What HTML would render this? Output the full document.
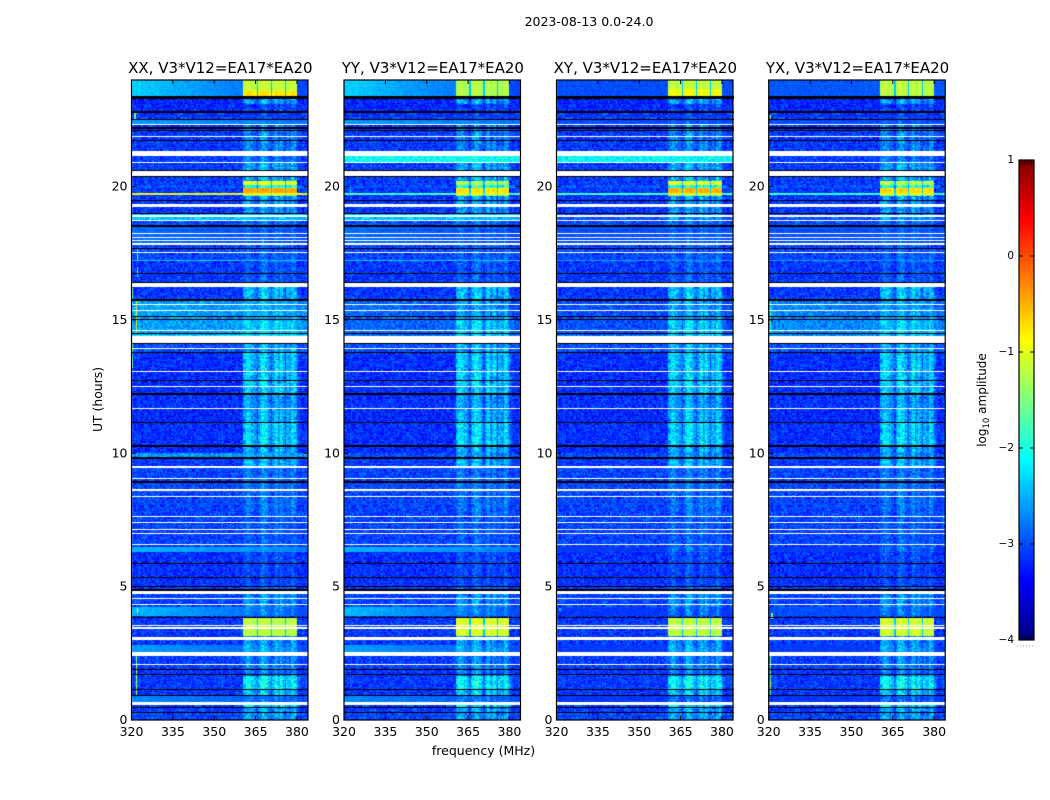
<!DOCTYPE html>
<html>
<head>
<meta charset="utf-8">
<title>2023-08-13 dynamic spectra</title>
<style>
html,body{margin:0;padding:0;background:#fff;}
#figure{position:relative;width:1050px;height:800px;overflow:hidden;background:#fff;}
canvas{position:absolute;display:block;}
svg{position:absolute;left:0;top:0;}
text{font-family:"DejaVu Sans","Liberation Sans",sans-serif;fill:#000;}
</style>
</head>
<body>
<div id="figure">
<canvas id="panel-0" width="177" height="640" style="left:131px;top:80px"></canvas>
<canvas id="panel-1" width="177" height="640" style="left:344px;top:80px"></canvas>
<canvas id="panel-2" width="178" height="640" style="left:556px;top:80px"></canvas>
<canvas id="panel-3" width="177" height="640" style="left:768px;top:80px"></canvas>
<canvas id="colorbar" width="15" height="480" style="left:1019px;top:160px"></canvas>
<svg id="overlay" width="1050" height="800"></svg>
</div>
<script>
// Panel titles
const panelTitles = ["XX, V3*V12=EA17*EA20","YY, V3*V12=EA17*EA20","XY, V3*V12=EA17*EA20","YX, V3*V12=EA17*EA20"];
// Axis ticks
const freqTicks = [320,335,350,365,380];
const utTicks = [0,5,10,15,20];
const colorTicks = [-4,-3,-2,-1,0,1];
// Time bands: top edge of each band in UT hours
const levelTop = [24,23.4,23.1,22.77,22.5,22.31,21.15,20.9,20.21,20.03,
19.95,19.75,19.71,19.65,18.98,18.71,18.49,17.81,17.25,17.21,
16.23,15.72,15,14.46,14.1,13.77,12.25,11.66,11.14,10.25,
9.98,9.85,9.44,7.65,6.48,6.31,5,4.83,4.24,3.9,
3.84,3.15,2.78,2.41,1.67,1.16,0.9,0.56,0.44];
// Background log10 amplitude per band, per polarisation
const bgXX = [-2.35,-3.2,-3.2,-3.1,-2.6,-3.1,-3.1,-3.1,-3.1,-3,
-3.1,-1,-3.1,-3.1,-2.4,-3,-2.85,-3.05,-2.4,-3.1,
-3.1,-2.55,-2.6,-2.2,-3,-3.15,-3.15,-3.2,-3.15,-3.15,
-2.6,-3.1,-3.05,-3.05,-2.5,-3.15,-3.1,-3.05,-2.45,-3.15,
-3.1,-3.1,-2.6,-3.1,-3.1,-3.1,-2.7,-3.1,-3.05];
const bgYY = [-2.35,-3.2,-3.2,-3.1,-2.6,-3.1,-2.1,-3.1,-3.1,-3,
-3.1,-1.8,-3.1,-3.1,-2.4,-3,-2.85,-3.05,-2.4,-3.1,
-3.1,-2.85,-2.9,-2.8,-3,-3.15,-3.15,-3.2,-3.15,-3.15,
-3,-3.1,-3.05,-3.05,-2.5,-3.15,-3.1,-3.05,-2.45,-3.15,
-3.1,-3.1,-2.6,-3.1,-3.1,-3.1,-2.7,-3.1,-3.05];
const bgXY = [-3,-3.2,-3.2,-3.1,-3,-3.1,-2.15,-3.1,-3.1,-3,
-3.1,-1.8,-3.1,-3.1,-3,-3,-3,-3.05,-2.6,-3.1,
-3.1,-3,-3,-2.8,-3,-3.15,-3.15,-3.2,-3.15,-3.15,
-3,-3.1,-3.05,-3.05,-3.1,-3.15,-3.1,-3.05,-3.1,-3.15,
-3.1,-3.1,-3.1,-3.1,-3.1,-3.1,-3.1,-3.1,-3.05];
const bgYX = [-2.95,-3.2,-3.2,-3.1,-3,-3.1,-3.1,-3.1,-3.1,-3,
-3.1,-1.9,-3.1,-3.1,-3,-3,-3,-3.05,-2.6,-3.1,
-3.1,-2.7,-2.7,-2.7,-3,-3.15,-3.15,-3.2,-3.15,-3.15,
-3,-3.1,-3.05,-3.05,-3.1,-3.15,-3.1,-3.05,-3,-3.15,
-3.1,-3.1,-3.1,-3.1,-3.1,-3.1,-3.1,-3.1,-3.05];
// Interference level per band in the 360-381 MHz blocks
const rfiLevel = [-1.15,-2.6,-3.1,-3.3,-3.1,-2.75,-2.8,-2.55,-1,-1.9,
-0.45,-1,-1.4,-2.65,-2.65,-2.95,-3,-3,-3,-3,
-2.45,-2.6,-2.35,-2.35,-2.55,-2.4,-2.6,-2.5,-2.35,-2.55,
-2.65,-2.5,-2.85,-3,-2.85,-3.1,-2.95,-2.65,-2.85,-3.1,
-1.2,-2.65,-2.55,-2.75,-2.2,-2.45,-2.85,-2.35,-2.6];
// Drop in log amplitude from 320 to 384 MHz per band
const bandTilt = [0.7,0,0,0,0.2,0,0,0,0,0,
0,0,0,0,0.1,0,0.2,0,0,0,
0,0.15,0,0,0,0,0,0,0,0,
0,0,0,0,0.25,0,0,0,0.55,0,
0,0,0.4,0,0,0,0.3,0,0];
// Gain per 0.5 MHz channel from 360.5 to 381 MHz
const rfiGain = [-0.15,0,0.1,0.1,0.05,0,-0.1,-0.1,-0.2,-0.3,-0.6,
-0.2,0,0.1,0.2,0.2,0.1,0,-0.1,-0.25,-0.6,
-0.2,0,0.1,0.15,-0.3,-0.1,0.1,0,-0.2,-0.6,
-0.15,-0.1,-0.2,-0.3,0.1,0.15,0,-0.2,-0.5,-0.7,-0.9];
// Per-polarisation overrides of the interference level
const rfiPatchPanel = [0,2,2,1,3,1,1,2,2,3,3,1,3];
const rfiPatchTop = [23.6,23.65,24,24,24,20.21,19.95,20.21,19.95,20.21,19.95,3.84,3.84];
const rfiPatchBottom = [23.4,23.4,23.65,23.4,23.4,20.03,19.75,20.03,19.75,20.03,19.75,3.15,3.15];
const rfiPatchLevel = [-0.75,-0.95,-1.2,-1.25,-1.2,-1.3,-0.75,-1,-0.5,-1.2,-0.7,-1.05,-1.1];
// Narrow bright streaks at the low-frequency edge
const spurPanel = [0,0,0,0,0,0,0,0,3,3,3,3,1,2];
const spurTop = [22.75,17.65,17,16.2,15.7,14.1,4.2,2.4,22.7,15.7,4,2.4,20,4.2];
const spurBottom = [22.55,17.25,16.6,15.8,14.5,13.2,4,0.9,22.5,14.5,3.8,0.9,19.8,4.1];
const spurFreq = [321,322,322,320,321.5,320,322,321.5,320.5,320.5,321,320.5,322,321];
const spurLevel = [-1.4,-1.8,-1.6,-1.9,-1.1,-1.9,-0.8,-1.4,-1.6,-1.9,-1.7,-1.6,-2.2,-2.2];
// Flagged time ranges drawn white
const gapTop = [22.35,21.9,21.35,20.94,20.59,19.36,18.93,18.75,18.25,18.12,18,17.88,17.56,16.4,15.6,15.36,14.63,14.4,13.96,13.09,12.53,11.7,9.53,9.06,8.66,8.4,7.65,7.43,7.16,7.01,6.59,4.83,4.56,4.36,3.56,3.5,3.44,3.12,2.55,2.1,0.69];
const gapBottom = [22.31,21.85,21.15,20.9,20.4,19.24,18.88,18.71,18.21,18.08,17.96,17.81,17.52,16.23,15.56,15.33,14.59,14.15,13.91,13.05,12.49,11.66,9.44,9.03,8.6,8.36,7.6,7.39,7.11,6.98,6.55,4.74,4.53,4.32,3.53,3.48,3.4,3.01,2.41,2.06,0.56];
// Zero-amplitude time ranges drawn black
const deadTop = [23.4,22.84,22.53,22.25,22.11,21.75,20.63,20.4,19.5,19.02,18.56,17.69,16.77,16.44,15.78,15.15,15.03,14.5,14.15,13.81,12.75,12.25,11.19,10.31,9.85,8.95,5.89,5.37,5.04,4.9,3.87,1.91,1.71,1.16,0.94,0.48,0.31];
const deadBottom = [23.29,22.77,22.5,22.16,22.09,21.71,20.59,20.36,19.46,18.98,18.49,17.65,16.75,16.4,15.72,15.11,15,14.46,14.1,13.77,12.7,12.2,11.14,10.25,9.79,8.9,5.84,5.33,5,4.83,3.84,1.88,1.67,1.13,0.9,0.44,0.27];
// Fine cell-to-cell speckle (illustrative texture, cannot be read per cell)
const speckle = [0.3,-0.8,0.1,0.7,-0.4,-0.1,0.9,-0.6,0.5,-0.2,-0.9,0.4,0.2,-0.5,0.8,-0.3,0,0.6,-0.7,0.35,
-0.15,1,-0.55,0.15,-1,0.45,0.75,-0.35,0.05,-0.65,0.55,-0.25,0.85,-0.75,0.25,-0.45,0.65,-0.05,-0.85,0.4,
0.1,-0.6,0.95,-0.3,0.5,-0.95,0.2,0.7,-0.2,-0.5,0.3,0.6,-0.7,0,-0.4,0.8,-0.1,0.45,-0.8,0.15,0.35];

const bgByPanel = [bgXX,bgYY,bgXY,bgYX];
const panelLeft = [131.5,344,556.5,768.7];
const canvasLeft = [131,344,556,768];
const panelWidth = 176.5;
const plotTop = 80, plotHeight = 640, freqMin = 320, freqMax = 384, utMax = 24;
const channelWidth = 0.5, rowHeight = 0.05, hotBlockEnd = 380;
const cbLeft = 1019, cbTop = 160, cbWidth = 15, cbHeight = 480, cbMin = -4, cbMax = 1;

function xScale(f){ return (f-freqMin)/(freqMax-freqMin)*panelWidth; }
function yScale(ut){ return (utMax-ut)/utMax*plotHeight; }
function cbScale(v){ return (cbMax-v)/(cbMax-cbMin)*cbHeight; }
function clamp01(a){ return Math.max(0,Math.min(1,a)); }
function jet(v){
  const t = clamp01((v-cbMin)/(cbMax-cbMin));
  const r = clamp01(Math.min(4*t-1.5,-4*t+4.5));
  const g = clamp01(Math.min(4*t-0.5,-4*t+3.5));
  const b = clamp01(Math.min(4*t+0.5,-4*t+2.5));
  return 'rgb('+Math.round(r*255)+','+Math.round(g*255)+','+Math.round(b*255)+')';
}
function bandIndex(ut){
  let k = 0;
  for(let i=0;i<levelTop.length;i++){ if(levelTop[i]>=ut) k=i; }
  return k;
}
function rfiAt(panel,ut,k){
  for(let i=0;i<rfiPatchPanel.length;i++){
    if(rfiPatchPanel[i]===panel && ut<=rfiPatchTop[i] && ut>rfiPatchBottom[i]) return rfiPatchLevel[i];
  }
  return rfiLevel[k];
}
function cellValue(panel,f,ut,row,col){
  const k = bandIndex(ut);
  const n1 = speckle[(row*row*3+col*col*5+row*col*7+row*11+col)%speckle.length];
  const n2 = speckle[(row*row*5+col*col*3+row*col*11+col*7+row)%speckle.length];
  let bg = bgByPanel[panel][k];
  const tilt = bandTilt[k];
  if(bg>-2.9) bg -= tilt*(f-freqMin)/(freqMax-freqMin);
  let v = bg + n1*(tilt>=0.2?0.12:0.3);
  const gi = Math.floor((f-360.5)/channelWidth);
  if(gi>=0 && gi<rfiGain.length){
    const rfi = rfiAt(panel,ut,k);
    const hot = rfi>-1.6;
    if(!(hot && f>=hotBlockEnd)){
      let r = rfi + rfiGain[gi]*(hot?0.3:1);
      if(rfiGain[gi]<=-0.5) r = Math.min(rfi+rfiGain[gi],hot?-2.4:-2.8);
      r += n2*(hot?0.05:0.36);
      v = Math.max(v,r);
    }
  }
  for(let i=0;i<spurPanel.length;i++){
    if(spurPanel[i]===panel && ut<=spurTop[i] && ut>spurBottom[i] && f===spurFreq[i]) v = Math.max(v,spurLevel[i]+n2*0.5);
  }
  return v;
}
function drawPanel(panel){
  const c = document.getElementById('panel-'+panel);
  const g = c.getContext('2d');
  const off = panelLeft[panel]-canvasLeft[panel];
  const rows = Math.round(utMax/rowHeight);
  const cols = Math.round((freqMax-freqMin)/channelWidth);
  for(let r=0;r<rows;r++){
    const utHigh = utMax-r*rowHeight;
    const y0 = Math.round(yScale(utHigh));
    const y1 = Math.round(yScale(utHigh-rowHeight));
    for(let q=0;q<cols;q++){
      const f = freqMin+q*channelWidth;
      const x0 = Math.round(off+xScale(f));
      const x1 = Math.round(off+xScale(f+channelWidth));
      g.fillStyle = jet(cellValue(panel,f,utHigh-rowHeight/2,r,q));
      g.fillRect(x0,y0,x1-x0,y1-y0);
    }
  }
  g.fillStyle = '#000';
  for(let i=0;i<deadTop.length;i++){
    const y = Math.round(yScale(deadTop[i]));
    g.fillRect(0,y,c.width,Math.max(1,Math.round(yScale(deadBottom[i]))-y));
  }
  g.fillStyle = '#fff';
  for(let i=0;i<gapTop.length;i++){
    const y = Math.round(yScale(gapTop[i]));
    g.fillRect(0,y,c.width,Math.max(1,Math.round(yScale(gapBottom[i]))-y));
  }
}
for(let p=0;p<4;p++){ drawPanel(p); }

const cbCanvas = document.getElementById('colorbar');
const cbCtx = cbCanvas.getContext('2d');
for(let i=0;i<cbHeight;i++){
  cbCtx.fillStyle = jet(cbMax-(i+0.5)/cbHeight*(cbMax-cbMin));
  cbCtx.fillRect(0,i,cbWidth,1);
}

const NS = 'http://www.w3.org/2000/svg';
const overlay = document.getElementById('overlay');
function svgEl(tag,attrs,parent){
  const el = document.createElementNS(NS,tag);
  for(const k in attrs){ el.setAttribute(k,attrs[k]); }
  (parent||overlay).appendChild(el);
  return el;
}
function svgText(str,attrs,parent){
  const el = svgEl('text',attrs,parent);
  el.textContent = str;
  return el;
}

const tickLen = 4;
for(let p=0;p<4;p++){
  const L = panelLeft[p];
  const group = svgEl('g',{});
  
  
  const frame = svgEl('rect',{x:L,y:plotTop,width:panelWidth,height:plotHeight,fill:'none',stroke:'#000','stroke-width':1.2},group);
  
  
  const title = svgText(panelTitles[p],{x:L+panelWidth/2+0.6,y:73,'text-anchor':'middle','font-size':15},group);
  
  
  freqTicks.forEach(function(f){
    const x = L+xScale(f);
    const tb = svgEl('line',{x1:x,x2:x,y1:plotTop+plotHeight,y2:plotTop+plotHeight-tickLen,stroke:'#000','stroke-width':1},group);
    
    
    const tt = svgEl('line',{x1:x,x2:x,y1:plotTop,y2:plotTop+tickLen,stroke:'#000','stroke-width':1},group);
    
    
    const lab = svgText(String(f),{x:x,y:736,'text-anchor':'middle','font-size':12.5},group);
    
    
  });
  utTicks.forEach(function(u){
    const y = plotTop+yScale(u);
    const tl = svgEl('line',{x1:L,x2:L+tickLen,y1:y,y2:y,stroke:'#000','stroke-width':1},group);
    
    
    const tr = svgEl('line',{x1:L+panelWidth,x2:L+panelWidth-tickLen,y1:y,y2:y,stroke:'#000','stroke-width':1},group);
    
    
    const lab = svgText(String(u),{x:L-4,y:y+4,'text-anchor':'end','font-size':12.5},group);
    
    
  });
}

const suptitle = svgText('2023-08-13 0.0-24.0',{x:589,y:26,'text-anchor':'middle','font-size':12.5});


const xTitle = svgText('frequency (MHz)',{x:483.5,y:755,'text-anchor':'middle','font-size':12.5});


const yTitle = svgText('UT (hours)',{x:0,y:0,'text-anchor':'middle','font-size':12.4,transform:'translate(102,399.5) rotate(-90)'});



const cbFrame = svgEl('rect',{x:cbLeft,y:cbTop,width:cbWidth,height:cbHeight,fill:'none',stroke:'#000','stroke-width':1.2});


colorTicks.forEach(function(v){
  const y = cbTop+cbScale(v);
  const a = svgEl('line',{x1:cbLeft,x2:cbLeft+4,y1:y,y2:y,stroke:'#000','stroke-width':1});
  
  
  const b = svgEl('line',{x1:cbLeft+cbWidth,x2:cbLeft+cbWidth-4,y1:y,y2:y,stroke:'#000','stroke-width':1});
  
  
  const lab = svgText(String(v).replace('-','\u2212'),{x:cbLeft-5,y:y+3,'text-anchor':'end','font-size':10.5},overlay);
  
  
});
const cbInnerTicks = [0.2,0.4,0.6,0.8];
cbInnerTicks.forEach(function(s){
  const x = cbLeft+s*cbWidth;
  const up = svgEl('line',{x1:x,x2:x,y1:cbTop,y2:cbTop+5,stroke:'#000','stroke-width':0.8});
  
  
  const dn = svgEl('line',{x1:x,x2:x,y1:cbTop+cbHeight,y2:cbTop+cbHeight-5,stroke:'#000','stroke-width':0.8});
  
  
});
const cbDots = svgEl('line',{x1:1017,x2:1035,y1:646,y2:646,stroke:'#999','stroke-width':1,'stroke-dasharray':'1 2'});


const cbTitle = svgEl('text',{x:0,y:0,'text-anchor':'middle','font-size':12,transform:'translate(986,400) rotate(-90)'});


const s1 = svgEl('tspan',{},cbTitle); s1.textContent = 'log';
const s2 = svgEl('tspan',{dy:3,'font-size':8.5},cbTitle); s2.textContent = '10';
const s3 = svgEl('tspan',{dy:-3},cbTitle); s3.textContent = ' amplitude';
</script>
</body>
</html>
